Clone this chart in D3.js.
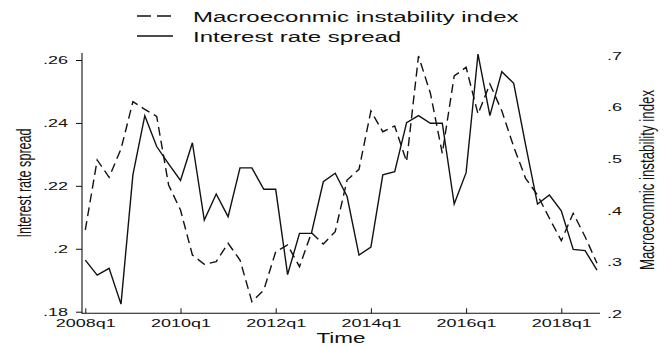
<!DOCTYPE html>
<html>
<head>
<meta charset="utf-8">
<script src="https://cdn.jsdelivr.net/npm/d3@7"></script>
<style>
  html, body { margin: 0; padding: 0; background: #fff; }
  svg { display: block; font-family: "Liberation Sans", Arial, Helvetica, sans-serif; }
</style>
</head>
<body>
<svg id="chart" width="668" height="347"></svg>
<script>
// Quarterly observations, 2008q1 - 2018q4
const quarters = [
  "2008q1","2008q2","2008q3","2008q4","2009q1","2009q2","2009q3","2009q4",
  "2010q1","2010q2","2010q3","2010q4","2011q1","2011q2","2011q3","2011q4",
  "2012q1","2012q2","2012q3","2012q4","2013q1","2013q2","2013q3","2013q4",
  "2014q1","2014q2","2014q3","2014q4","2015q1","2015q2","2015q3","2015q4",
  "2016q1","2016q2","2016q3","2016q4","2017q1","2017q2","2017q3","2017q4",
  "2018q1","2018q2","2018q3","2018q4"
];

// Interest rate spread (left axis)
const spread = [
  0.1964, 0.1916, 0.1938, 0.1824, 0.2235, 0.2423, 0.2325, 0.2270,
  0.2217, 0.2337, 0.2091, 0.2174, 0.2102, 0.2257, 0.2257, 0.2189,
  0.2189, 0.1918, 0.2049, 0.2049, 0.2213, 0.2240, 0.2166, 0.1980,
  0.2005, 0.2235, 0.2245, 0.2401, 0.2423, 0.2399, 0.2399, 0.2142,
  0.2242, 0.2619, 0.2423, 0.2563, 0.2526, 0.2330, 0.2142, 0.2171,
  0.2121, 0.1998, 0.1994, 0.1932
];

// Macroeconomic instability index (right axis)
const instability = [
  0.3613, 0.4968, 0.4633, 0.5180, 0.6096, 0.5949, 0.5813, 0.4484,
  0.4000, 0.3129, 0.2949, 0.2999, 0.3355, 0.3032, 0.2225, 0.2451,
  0.3192, 0.3322, 0.2902, 0.3560, 0.3341, 0.3580, 0.4580, 0.4788,
  0.5916, 0.5515, 0.5626, 0.4935, 0.6980, 0.6259, 0.5097, 0.6594,
  0.6762, 0.5858, 0.6439, 0.5920, 0.5225, 0.4613, 0.4290, 0.3839,
  0.3405, 0.3936, 0.3483, 0.2968
];

const xTicks = ["2008q1","2010q1","2012q1","2014q1","2016q1","2018q1"];
const spreadTicks = [0.18, 0.20, 0.22, 0.24, 0.26];
const spreadTickLabels = [".18", ".2", ".22", ".24", ".26"];
const instabilityTicks = [0.2, 0.3, 0.4, 0.5, 0.6, 0.7];
const instabilityTickLabels = [".2", ".3", ".4", ".5", ".6", ".7"];

const seriesNames = ["Macroeconmic instability index", "Interest rate spread"];

// Text in this graph is drawn wide: glyphs are stretched horizontally
const SX = 1.55;
const INK = "#111";

const svg = d3.select("#chart");

const plot = { left: 82, right: 600, top: 53, bottom: 313.3 };

const x = d3.scalePoint().domain(quarters).range([85.3, 597]);
const yL = d3.scaleLinear().domain([0.18, 0.26]).range([311.7, 60]);
const yR = d3.scaleLinear().domain([0.2, 0.7]).range([313.3, 55]);

// ---- axes ----
const leftAxis = d3.axisLeft(yL)
  .tickValues(spreadTicks)
  .tickSize(6)
  .tickFormat((d, i) => spreadTickLabels[i]);

const gL = svg.append("g")
  .attr("transform", `translate(${plot.left},0)`)
  .call(leftAxis);
gL.select(".domain").remove();
gL.selectAll(".tick line").attr("stroke", INK).attr("stroke-width", 1);
gL.selectAll(".tick text")
  .attr("x", 0).attr("y", 0).attr("dy", "0.3em")
  .attr("fill", INK)
  .attr("font-size", 11.6)
  .attr("text-anchor", "end")
  .attr("transform", `translate(-14,0) scale(${SX},1)`);

const rightAxis = d3.axisRight(yR)
  .tickValues(instabilityTicks)
  .tickSize(0)
  .tickFormat((d, i) => instabilityTickLabels[i]);

const gR = svg.append("g")
  .attr("transform", `translate(${plot.right},0)`)
  .call(rightAxis);
gR.select(".domain").remove();
gR.selectAll(".tick line").remove();
gR.selectAll(".tick text")
  .attr("x", 0).attr("y", 0).attr("dy", "0.36em")
  .attr("fill", INK)
  .attr("font-size", 11.6)
  .attr("text-anchor", "start")
  .attr("transform", `translate(7,0) scale(${SX},1)`);

const bottomAxis = d3.axisBottom(x)
  .tickValues(xTicks)
  .tickSizeInner(-5)
  .tickSizeOuter(0);

const gB = svg.append("g")
  .attr("transform", `translate(0,${plot.bottom})`)
  .call(bottomAxis);
gB.select(".domain").remove();
gB.selectAll(".tick line").attr("stroke", INK).attr("stroke-width", 1);
gB.selectAll(".tick text")
  .attr("x", 0).attr("y", 0).attr("dy", "0.71em")
  .attr("fill", INK)
  .attr("font-size", 11.6)
  .attr("text-anchor", "middle")
  .attr("transform", `translate(0,5.5) scale(${SX},1)`);

// axis lines
svg.append("line")
  .attr("x1", plot.left).attr("x2", plot.left)
  .attr("y1", plot.bottom + 0.5).attr("y2", plot.top)
  .attr("stroke", INK).attr("stroke-width", 1.1);
svg.append("line")
  .attr("x1", plot.left).attr("x2", plot.right)
  .attr("y1", plot.bottom).attr("y2", plot.bottom)
  .attr("stroke", INK).attr("stroke-width", 1.1);

// ---- series ----
const lineL = d3.line().x((d, i) => x(quarters[i])).y(d => yL(d));
const lineR = d3.line().x((d, i) => x(quarters[i])).y(d => yR(d));

svg.append("path")
  .datum(instability)
  .attr("d", lineR)
  .attr("fill", "none")
  .attr("stroke", INK)
  .attr("stroke-width", 1.4)
  .attr("stroke-dasharray", "9,5");

svg.append("path")
  .datum(spread)
  .attr("d", lineL)
  .attr("fill", "none")
  .attr("stroke", INK)
  .attr("stroke-width", 1.4)
  .attr("stroke-linejoin", "miter");

// ---- axis titles ----
function stretchedText(tx, ty, str, size, rotate) {
  return svg.append("text")
    .attr("transform", `translate(${tx},${ty}) scale(${SX},1)` + (rotate ? " rotate(-90)" : ""))
    .attr("text-anchor", "middle")
    .attr("font-size", size)
    .attr("fill", INK)
    .text(str);
}

stretchedText(341, 343, "Time", 14.5, false);
stretchedText(31, 183, "Interest rate spread", 12.6, true);
stretchedText(654, 180, "Macroeconmic instability index", 13.3, true);

// ---- legend ----
const legendRows = [
  { name: seriesNames[0], y: 16, dash: "14,6" },
  { name: seriesNames[1], y: 36, dash: null }
];
const lg = svg.append("g");
legendRows.forEach(r => {
  lg.append("line")
    .attr("x1", 137).attr("x2", 173)
    .attr("y1", r.y).attr("y2", r.y)
    .attr("stroke", INK).attr("stroke-width", 1.4)
    .attr("stroke-dasharray", r.dash);
  lg.append("text")
    .attr("transform", `translate(193,${r.y}) scale(${SX},1)`)
    .attr("dy", "0.36em")
    .attr("font-size", 15.5)
    .attr("fill", INK)
    .text(r.name);
});
</script>
</body>
</html>
